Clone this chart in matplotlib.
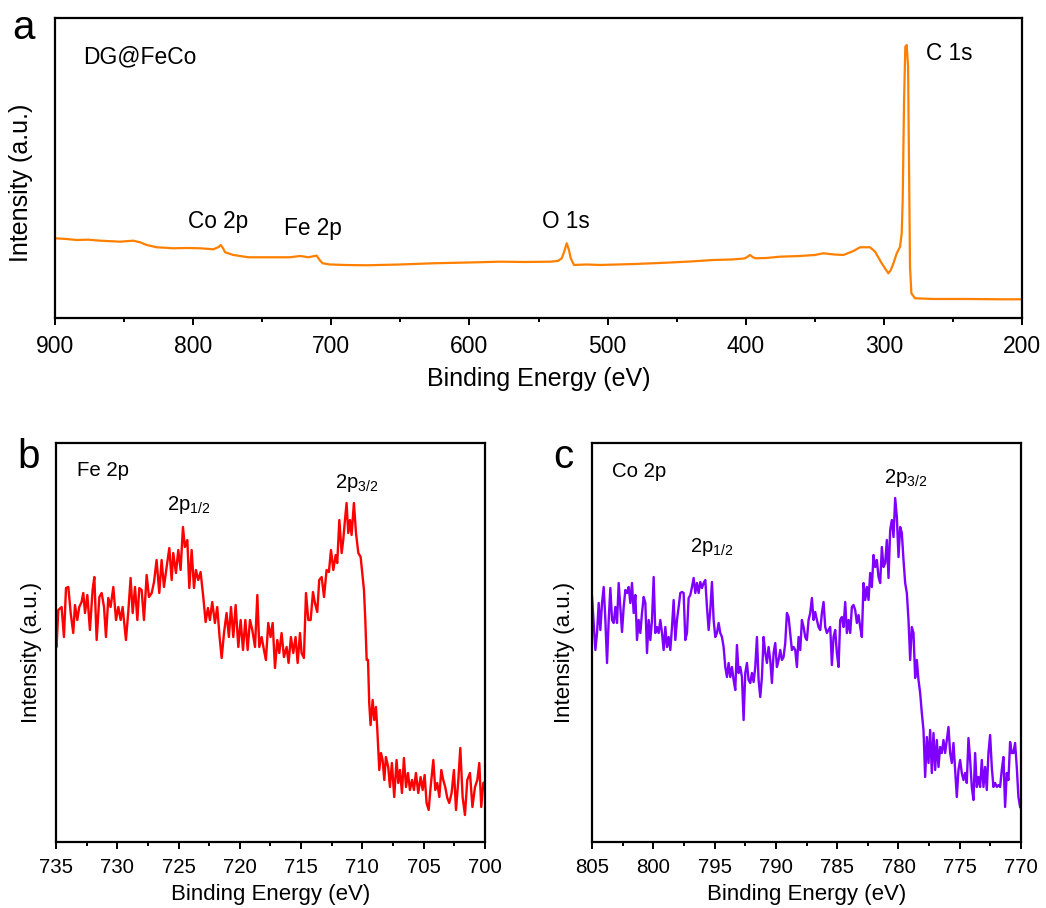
import numpy as np
import matplotlib
matplotlib.use('Agg')
import matplotlib.pyplot as plt
from matplotlib.ticker import MultipleLocator

plt.rcParams['font.family'] = ['Liberation Sans', 'DejaVu Sans']
plt.rcParams['mathtext.fontset'] = 'custom'
plt.rcParams['mathtext.rm'] = 'Liberation Sans'

# ---- survey spectrum (a) ----
sv_e = [900, 892, 884.3, 876, 867.4, 860, 852.9, 843.3, 838, 833.6, 826.4, 820, 814.4, 805,
        795, 785.4, 781.5, 780, 778.5, 776.9, 770.9, 760, 746.8, 729.9, 722.6, 716.6, 712,
        710.6, 708.5, 706.3, 701, 690, 674.4, 650, 626.2, 600, 578, 560, 541.7, 536, 533.2,
        531.5, 529.6, 528, 526.7, 524.3, 515, 505.5, 480, 457.2, 440, 423.4, 410, 401, 399.3,
        396.9, 395, 393.3, 385, 375.2, 360.7, 350, 343.8, 336, 329.3, 322, 317.3, 310, 306.4,
        301.6, 296.8, 295, 293.1, 290.7, 288.3, 287.1, 286.4, 285.4, 284.5, 283.5, 282.5,
        281.8, 281.1, 280.1, 277.5, 264.2, 240, 215.9, 200]
sv_i = [79.7, 79.0, 78, 78.3, 77.3, 76.8, 76.3, 77.3, 75.5, 73, 70.7, 70.2, 69.7, 70.0,
        69.7, 68.7, 71, 73, 70, 65.7, 63, 60.7, 60.7, 60.7, 62, 60.7, 62,
        62.3, 58, 54.7, 53.5, 53, 52.7, 53.5, 54.7, 55.5, 56.3, 56, 56.3, 57, 59.7,
        66, 74.7, 68, 59.7, 53, 53.5, 53, 54, 55.3, 56.5, 58, 58.5, 59.5, 60.7,
        63, 61, 59.7, 60, 61.3, 62, 63, 64.7, 63.5, 63, 67, 70.7, 70.7, 66.3,
        54.7, 44.7, 48, 54.7, 64.7, 71.3, 84.7, 118, 218, 271.3, 273, 251.3,
        151.3, 51.3, 24.7, 19.7, 19, 19, 18.7, 18.7]

# ---- Fe 2p (b) ----
fe_e = [735.00, 734.95, 734.81, 734.54, 734.35, 734.18, 733.99, 733.80, 733.59, 733.45,
        733.26, 733.10, 732.91, 732.77, 732.63, 732.44, 732.23, 732.01, 731.87, 731.68,
        731.46, 731.27, 731.08, 730.92, 730.73, 730.54, 730.32, 730.10, 729.91, 729.72,
        729.56, 729.29, 729.10, 728.91, 728.74, 728.55, 728.36, 728.20, 728.01, 727.82,
        727.60, 727.41, 727.19, 727.00, 726.79, 726.57, 726.38, 726.19, 725.97, 725.75,
        725.56, 725.43, 725.21, 725.02, 724.83, 724.64, 724.48, 724.28, 724.12, 723.93,
        723.74, 723.58, 723.39, 723.20, 722.98, 722.79, 722.60, 722.44, 722.25, 722.03,
        721.84, 721.65, 721.48, 721.29, 721.08, 720.89, 720.72, 720.53, 720.34, 720.12,
        719.93, 719.74, 719.55, 719.36, 719.17, 718.98, 718.76, 718.57, 718.41, 718.22,
        718.03, 717.87, 717.68, 717.49, 717.32, 717.13, 716.94, 716.78, 716.59, 716.40,
        716.18, 716.02, 715.83, 715.64, 715.45, 715.28, 715.09, 714.96, 714.77, 714.60,
        714.41, 714.22, 714.03, 713.87, 713.68, 713.52, 713.32, 713.13, 712.92, 712.73,
        712.56, 712.37, 712.18, 712.05, 711.88, 711.69, 711.56, 711.42, 711.29, 711.15,
        711.01, 710.88, 710.69, 710.52, 710.33, 710.14, 709.98, 709.87, 709.76, 709.65,
        709.54, 709.44, 709.33, 709.16, 709.03, 708.89, 708.78, 708.62, 708.48, 708.35,
        708.21, 708.08, 707.89, 707.75, 707.59, 707.40, 707.21, 707.07, 706.93, 706.77,
        706.61, 706.44, 706.28, 706.12, 705.95, 705.79, 705.63, 705.44, 705.25, 705.08,
        704.92, 704.76, 704.59, 704.43, 704.21, 704.05, 703.89, 703.72, 703.56, 703.40,
        703.24, 703.07, 702.91, 702.72, 702.53, 702.36, 702.17, 702.01, 701.82, 701.63,
        701.44, 701.22, 701.02, 700.81, 700.62, 700.46, 700.30, 700.13, 700.00]
fe_i = [222, 195, 232, 235, 205, 254, 255, 229, 209, 237,
        222, 235, 240, 249, 229, 247, 212, 252, 265, 202,
        245, 249, 235, 205, 244, 235, 255, 222, 235, 222,
        235, 202, 230, 264, 229, 255, 222, 254, 252, 222,
        267, 245, 249, 260, 282, 249, 282, 255, 275, 294,
        262, 289, 269, 292, 272, 315, 295, 302, 254, 292,
        254, 272, 262, 270, 245, 220, 234, 222, 240, 219,
        235, 205, 184, 209, 229, 205, 235, 205, 237, 195,
        222, 192, 222, 192, 222, 212, 195, 247, 195, 205,
        192, 182, 219, 205, 219, 174, 202, 189, 209, 185,
        195, 179, 205, 189, 205, 179, 209, 189, 184, 249,
        222, 222, 250, 239, 230, 262, 265, 245, 272, 270,
        292, 272, 287, 279, 322, 289, 302, 322, 339, 309,
        322, 307, 339, 309, 289, 285, 265, 252, 222, 182,
        182, 139, 117, 142, 122, 135, 112, 72, 89, 82,
        62, 85, 75, 55, 79, 45, 82, 59, 72, 49,
        84, 55, 69, 52, 62, 52, 69, 49, 65, 52,
        67, 39, 32, 55, 82, 52, 59, 45, 72, 62,
        55, 44, 39, 49, 72, 32, 62, 94, 45, 27,
        62, 69, 35, 55, 62, 79, 35, 59, 60]

# ---- Co 2p (c), uniform scan from 805 eV ----
co_start, co_step = 805.0, 0.1359
co_i = [245, 219, 192, 209, 239, 212, 239, 255, 222, 179, 222, 254, 222, 219, 235, 219,
        259, 235, 210, 235, 252, 249, 255, 239, 259, 229, 247, 202, 222, 209, 229, 245,
        239, 189, 222, 202, 222, 265, 209, 215, 209, 222, 209, 192, 215, 195, 205, 192,
        215, 242, 202, 222, 235, 249, 250, 249, 202, 209, 244, 247, 255, 264, 249, 259,
        249, 260, 254, 259, 262, 235, 212, 232, 260, 222, 205, 209, 219, 209, 205, 195,
        175, 165, 179, 165, 175, 162, 152, 197, 169, 175, 165, 122, 169, 179, 162, 159,
        169, 160, 175, 205, 162, 145, 165, 205, 189, 179, 195, 182, 159, 189, 199, 175,
        182, 192, 182, 185, 199, 229, 225, 209, 192, 195, 192, 175, 205, 192, 222, 215,
        205, 202, 222, 229, 244, 222, 230, 222, 215, 212, 229, 240, 215, 209, 212, 215,
        177, 205, 212, 189, 175, 222, 225, 215, 240, 209, 222, 209, 235, 237, 232, 219,
        227, 215, 205, 259, 242, 255, 242, 269, 255, 287, 275, 282, 265, 259, 295, 275,
        279, 302, 264, 312, 322, 305, 344, 325, 285, 315, 309, 282, 259, 249, 222, 182,
        215, 209, 164, 182, 162, 149, 129, 112, 65, 105, 79, 112, 69, 109, 72, 102,
        75, 95, 89, 102, 89, 102, 115, 89, 79, 99, 72, 45, 72, 82, 69, 62,
        69, 59, 104, 82, 55, 42, 89, 55, 65, 55, 82, 55, 75, 52, 89, 107,
        75, 55, 59, 55, 57, 55, 72, 85, 35, 69, 62, 100, 89, 89, 99, 75,
        45, 35]
co_e = co_start - co_step * np.arange(len(co_i))

fig = plt.figure(figsize=(10.46, 9.08), dpi=100)
ax_a = fig.add_axes([0.0526, 0.6498, 0.9245, 0.3304])
ax_b = fig.add_axes([0.0535, 0.0727, 0.4101, 0.4394])
ax_c = fig.add_axes([0.566, 0.0727, 0.4101, 0.4394])


def style(ax, major, minor, fs, pad):
    ax.set_yticks([])
    ax.xaxis.set_major_locator(MultipleLocator(major))
    ax.xaxis.set_minor_locator(MultipleLocator(minor))
    ax.tick_params(axis='x', which='major', direction='out', length=5, width=1.4,
                   labelsize=fs, pad=pad)
    ax.tick_params(axis='x', which='minor', direction='out', length=3, width=1.4)
    for s in ax.spines.values():
        s.set_linewidth(1.6)


# panel a
ax_a.plot(sv_e, sv_i, color='#FF8000', lw=1.6)
ax_a.set_xlim(900, 200)
ax_a.set_ylim(0, 300)
style(ax_a, 100, 50, 16.5, 7)
ax_a.set_xlabel('Binding Energy (eV)', fontsize=18, labelpad=7)
ax_a.set_ylabel('Intensity (a.u.)', fontsize=18)
ax_a.yaxis.set_label_coords(-0.023, 0.45)
ax_a.text(0.029, 0.85, 'DG@FeCo', transform=ax_a.transAxes, fontsize=16.5)
ax_a.text(803.7, 90, 'Co 2p', fontsize=16.3)
ax_a.text(734.2, 83, 'Fe 2p', fontsize=16.3)
ax_a.text(547.7, 90, 'O 1s', fontsize=16.3)
ax_a.text(269.5, 258, 'C 1s', fontsize=16.3)

# panel b
ax_b.plot(fe_e, fe_i, color='#FF0000', lw=1.7)
ax_b.set_xlim(735, 700)
ax_b.set_ylim(0, 399)
style(ax_b, 5, 2.5, 14.7, 6.5)
ax_b.set_xlabel('Binding Energy (eV)', fontsize=16, labelpad=5)
ax_b.set_ylabel('Intensity (a.u.)', fontsize=16)
ax_b.yaxis.set_label_coords(-0.033, 0.474)
ax_b.text(0.049, 0.917, 'Fe 2p', transform=ax_b.transAxes, fontsize=14.7)
ax_b.text(725.9, 332, r'2p$\mathregular{_{1/2}}$', fontsize=14.5)
ax_b.text(712.2, 354, r'2p$\mathregular{_{3/2}}$', fontsize=14.5)

# panel c
ax_c.plot(co_e, co_i, color='#8000FF', lw=1.7)
ax_c.set_xlim(805, 770)
ax_c.set_ylim(0, 399)
style(ax_c, 5, 2.5, 14.7, 6.5)
ax_c.set_xlabel('Binding Energy (eV)', fontsize=16, labelpad=5)
ax_c.set_ylabel('Intensity (a.u.)', fontsize=16)
ax_c.yaxis.set_label_coords(-0.040, 0.474)
ax_c.text(0.047, 0.915, 'Co 2p', transform=ax_c.transAxes, fontsize=14.7)
ax_c.text(797.0, 290, r'2p$\mathregular{_{1/2}}$', fontsize=14.5)
ax_c.text(781.2, 359, r'2p$\mathregular{_{3/2}}$', fontsize=14.5)

# panel letters
fig.text(0.0115, 0.957, 'a', fontsize=29)
fig.text(0.017, 0.4846, 'b', fontsize=29)
fig.text(0.529, 0.4846, 'c', fontsize=29)

fig.savefig('out.png', dpi=100)
